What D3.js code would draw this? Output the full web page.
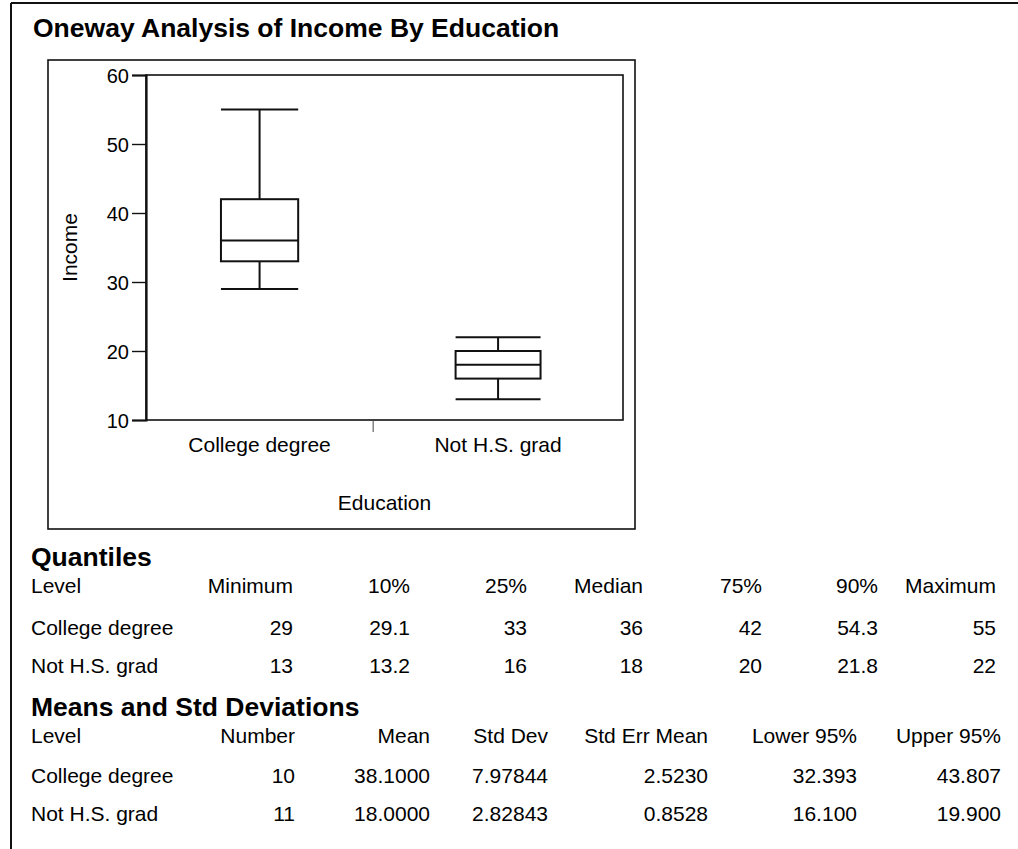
<!DOCTYPE html>
<html>
<head>
<meta charset="utf-8">
<script src="https://cdn.jsdelivr.net/npm/d3@7"></script>
<style>
  html, body { margin: 0; padding: 0; background: #fff; }
  svg { display: block; }
  text { font-family: "Liberation Sans", Arial, Helvetica, sans-serif; fill: #000; }
</style>
</head>
<body>
<svg id="chart" width="1018" height="849"></svg>
<script>
// Oneway analysis: Income by Education level
const categories = ["College degree", "Not H.S. grad"];
const counts = [10, 11];

// Quantiles per level
const minimum = [29, 13];
const q10 = [29.1, 13.2];
const q25 = [33, 16];
const median = [36, 18];
const q75 = [42, 20];
const q90 = [54.3, 21.8];
const maximum = [55, 22];

// Means and standard deviations per level
const means = [38.1, 18.0];
const stdDevs = [7.97844, 2.82843];
const stdErrs = [2.5230, 0.8528];
const lower95 = [32.393, 16.100];
const upper95 = [43.807, 19.900];

const yTicks = [10, 20, 30, 40, 50, 60];
const quantileHeaders = ["Level", "Minimum", "10%", "25%", "Median", "75%", "90%", "Maximum"];
const meanHeaders = ["Level", "Number", "Mean", "Std Dev", "Std Err Mean", "Lower 95%", "Upper 95%"];

const svg = d3.select("#chart");
const ink = "#111";
const bodySize = 21;
const headSize = 26.5;

// Report frame (top and left rules)
svg.append("line").attr("x1", 11).attr("x2", 1018).attr("y1", 3).attr("y2", 3)
  .attr("stroke", ink).attr("stroke-width", 2);
svg.append("line").attr("x1", 11).attr("x2", 11).attr("y1", 3).attr("y2", 849)
  .attr("stroke", ink).attr("stroke-width", 2);

svg.append("text").attr("x", 33).attr("y", 37)
  .attr("font-size", headSize).attr("font-weight", "bold")
  .text("Oneway Analysis of Income By Education");

// Graph frame
svg.append("rect").attr("x", 48).attr("y", 60).attr("width", 587).attr("height", 469)
  .attr("fill", "none").attr("stroke", ink).attr("stroke-width", 1.6);

const plot = { left: 146, right: 623, top: 75, bottom: 420 };

const y = d3.scaleLinear().domain([10, 60]).range([plot.bottom, plot.top]);

// Horizontal axis: each level gets a width proportional to its count
const total = d3.sum(counts);
const x = d3.scaleLinear().domain([0, total]).range([plot.left, plot.right]);
const starts = counts.map((c, i) => d3.sum(counts.slice(0, i)));
const levels = categories.map((name, i) => ({
  name, n: counts[i],
  start: starts[i], end: starts[i] + counts[i],
  center: x(starts[i] + counts[i] / 2),
  half: (x(counts[i]) - x(0)) * 0.34 / 2,
  min: minimum[i], q1: q25[i], med: median[i], q3: q75[i], max: maximum[i]
}));

// Plot box
svg.append("rect").attr("x", plot.left).attr("y", plot.top)
  .attr("width", plot.right - plot.left).attr("height", plot.bottom - plot.top)
  .attr("fill", "none").attr("stroke", ink).attr("stroke-width", 1.6);

// Y axis
const yAxis = d3.axisLeft(y).tickValues(yTicks).tickSize(14).tickPadding(3);
const yg = svg.append("g").attr("transform", `translate(${plot.left},0)`).call(yAxis);
yg.select(".domain").attr("stroke", ink).attr("stroke-width", 2.2);
yg.selectAll(".tick line").attr("stroke", ink).attr("stroke-width", 1.4);
yg.selectAll(".tick text").attr("font-size", 20).attr("font-family", null)
  .attr("fill", "#000").attr("dy", "0.36em");

// Divider tick between levels on the x axis
svg.selectAll("line.divider").data(levels.slice(1)).join("line")
  .attr("class", "divider")
  .attr("x1", d => x(d.start)).attr("x2", d => x(d.start))
  .attr("y1", plot.bottom).attr("y2", plot.bottom + 12)
  .attr("stroke", "#444").attr("stroke-width", 1);

svg.selectAll("text.level").data(levels).join("text")
  .attr("class", "level")
  .attr("x", d => d.center).attr("y", 451.5)
  .attr("text-anchor", "middle").attr("font-size", bodySize)
  .text(d => d.name);

svg.append("text").attr("x", (plot.left + plot.right) / 2).attr("y", 510)
  .attr("text-anchor", "middle").attr("font-size", bodySize).text("Education");

svg.append("text")
  .attr("transform", `translate(77,${(plot.top + plot.bottom) / 2}) rotate(-90)`)
  .attr("text-anchor", "middle").attr("font-size", bodySize).text("Income");

// Box plots
const boxes = svg.append("g").attr("stroke", ink).attr("stroke-width", 2).attr("fill", "none");
levels.forEach(d => {
  const g = boxes.append("g");
  g.append("line").attr("x1", d.center).attr("x2", d.center)
    .attr("y1", y(d.max)).attr("y2", y(d.q3));
  g.append("line").attr("x1", d.center).attr("x2", d.center)
    .attr("y1", y(d.q1)).attr("y2", y(d.min));
  g.append("line").attr("x1", d.center - d.half).attr("x2", d.center + d.half)
    .attr("y1", y(d.max)).attr("y2", y(d.max));
  g.append("line").attr("x1", d.center - d.half).attr("x2", d.center + d.half)
    .attr("y1", y(d.min)).attr("y2", y(d.min));
  g.append("rect").attr("x", d.center - d.half).attr("y", y(d.q3))
    .attr("width", 2 * d.half).attr("height", y(d.q1) - y(d.q3));
  g.append("line").attr("x1", d.center - d.half).attr("x2", d.center + d.half)
    .attr("y1", y(d.med)).attr("y2", y(d.med));
});

// Report tables
function table(title, titleY, headers, rows, colRight, rowYs) {
  svg.append("text").attr("x", 31).attr("y", titleY)
    .attr("font-size", headSize).attr("font-weight", "bold").text(title);
  const all = [headers].concat(rows);
  all.forEach((cells, r) => {
    cells.forEach((c, j) => {
      svg.append("text")
        .attr("x", j === 0 ? 31 : colRight[j - 1])
        .attr("y", rowYs[r])
        .attr("text-anchor", j === 0 ? "start" : "end")
        .attr("font-size", bodySize)
        .text(c);
    });
  });
}

const quantRows = categories.map((name, i) => [name,
  String(minimum[i]), String(q10[i]), String(q25[i]), String(median[i]),
  String(q75[i]), String(q90[i]), String(maximum[i])]);
table("Quantiles", 566, quantileHeaders, quantRows,
  [293, 410, 527, 643, 762, 878, 996], [593, 634.5, 673]);

const f4 = d3.format(".4f"), f5 = d3.format(".5f"), f3 = d3.format(".3f");
const meanRows = categories.map((name, i) => [name,
  String(counts[i]), f4(means[i]), f5(stdDevs[i]), f4(stdErrs[i]),
  f3(lower95[i]), f3(upper95[i])]);
table("Means and Std Deviations", 716, meanHeaders, meanRows,
  [295, 430, 548, 708, 857, 1001], [743, 783, 821]);
</script>
</body>
</html>
